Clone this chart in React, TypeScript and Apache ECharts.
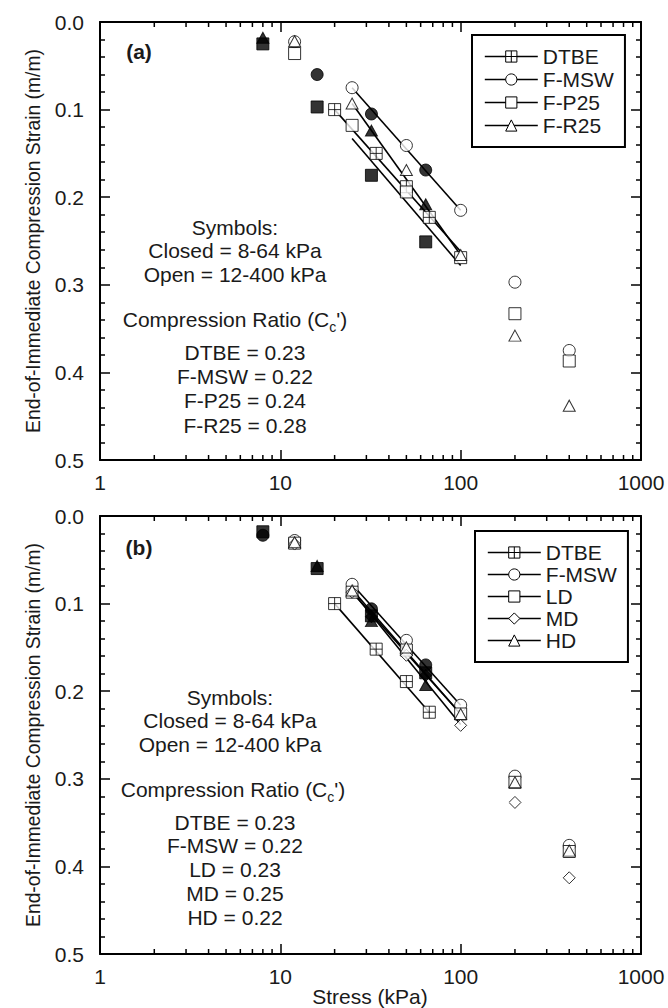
import React, { useEffect, useRef } from 'react';
import * as echarts from 'echarts';

// ---------- data ----------
const xTickLabels = ['1', '10', '100', '1000'];
const minorTickStresses = [2, 3, 4, 5, 6, 7, 8, 9, 20, 30, 40, 50, 60, 70, 80, 90, 200, 300, 400, 500, 600, 700, 800, 900];

// Panel (a) — open symbols (12-400 kPa)
const aDTBEOpen = [[20, 0.100], [34, 0.150], [50, 0.188], [67, 0.223]];
const aMSWOpen = [[12, 0.0225], [25, 0.075], [50, 0.141], [100, 0.215], [200, 0.297], [400, 0.375]];
const aP25Open = [[12, 0.036], [25, 0.118], [50, 0.194], [100, 0.269], [200, 0.333], [400, 0.387]];
const aR25Open = [[12, 0.022], [25, 0.093], [50, 0.169], [100, 0.266], [200, 0.358], [400, 0.438]];
// Panel (a) — closed symbols (8-64 kPa)
const aMSWClosed = [[16, 0.060], [32, 0.105], [64, 0.169]];
const aP25Closed = [[8, 0.025], [16, 0.097], [32, 0.175], [64, 0.251]];
const aR25Closed = [[8, 0.018], [32, 0.124], [64, 0.208]];
// Panel (a) — fitted lines
const aDTBEFit = [[20, 0.100], [100, 0.262]];
const aMSWFit = [[25, 0.075], [100, 0.215]];
const aP25Fit = [[25, 0.133], [100, 0.278]];
const aR25Fit = [[25, 0.093], [100, 0.266]];

// Panel (b) — open symbols
const bDTBEOpen = [[20, 0.100], [34, 0.152], [50, 0.189], [67, 0.224]];
const bMSWOpen = [[12, 0.028], [25, 0.078], [50, 0.142], [100, 0.216], [200, 0.297], [400, 0.376]];
const bLDOpen = [[12, 0.031], [25, 0.087], [50, 0.153], [100, 0.226], [200, 0.304], [400, 0.383]];
const bMDOpen = [[12, 0.032], [25, 0.087], [50, 0.159], [100, 0.239], [200, 0.327], [400, 0.413]];
const bHDOpen = [[12, 0.030], [25, 0.085], [50, 0.150], [100, 0.226], [200, 0.304], [400, 0.382]];
// Panel (b) — closed symbols
const bMSWClosed = [[8, 0.022], [32, 0.106], [64, 0.170]];
const bLDClosed = [[8, 0.018], [16, 0.060], [32, 0.114], [64, 0.179]];
const bMDClosed = [[32, 0.115], [64, 0.182]];
const bHDClosed = [[16, 0.057], [32, 0.120], [64, 0.193]];
// Panel (b) — fitted lines
const bDTBEFit = [[20, 0.100], [67, 0.224]];
const bMSWFit = [[25, 0.078], [100, 0.216]];
const bLDFit = [[25, 0.087], [100, 0.226]];
const bMDFit = [[25, 0.086], [100, 0.238]];
const bHDFit = [[25, 0.084], [100, 0.226]];

const legendA = ['DTBE', 'F-MSW', 'F-P25', 'F-R25'];
const legendB = ['DTBE', 'F-MSW', 'LD', 'MD', 'HD'];
const symbolNotes = ['Symbols:', 'Closed = 8-64 kPa', 'Open = 12-400 kPa'];
const ratioA = ['DTBE = 0.23', 'F-MSW = 0.22', 'F-P25 = 0.24', 'F-R25 = 0.28'];
const ratioB = ['DTBE = 0.23', 'F-MSW = 0.22', 'LD = 0.23', 'MD = 0.25', 'HD = 0.22'];
const yTitle = 'End-of-Immediate Compression Strain (m/m)';
const xTitle = 'Stress (kPa)';

// ---------- styling ----------
const FONT = 'Liberation Sans, Arial, sans-serif';
const INK = '#1a1a1a';
const GRID_SYMBOL = 'path://M0,0 L10,0 L10,10 L0,10 Z M5,0 L5,10 M0,5 L10,5';
const SYM: Record<string, string> = {
  DTBE: GRID_SYMBOL,
  'F-MSW': 'circle',
  'F-P25': 'rect',
  'F-R25': 'triangle',
  LD: 'rect',
  MD: 'diamond',
  HD: 'triangle',
};

function scatter(id: string, data: number[][], symbol: string, filled: boolean, ax: number) {
  return {
    type: 'scatter',
    name: id,
    xAxisIndex: ax * 2,
    yAxisIndex: ax * 2,
    data,
    symbol,
    symbolSize: symbol === 'triangle' ? [12, 11] : 12,
    itemStyle: filled
      ? { color: '#000', borderColor: '#000', borderWidth: 1 }
      : { color: '#fff', borderColor: '#000', borderWidth: 1 },
    z: filled ? 3 : 4,
    silent: true,
  };
}

function fitLine(name: string, data: number[][], ax: number) {
  return {
    type: 'line',
    name,
    xAxisIndex: ax * 2,
    yAxisIndex: ax * 2,
    data,
    symbol: SYM[name],
    symbolSize: 12,
    showSymbol: false,
    lineStyle: { color: '#000', width: 1.6 },
    itemStyle: { color: '#fff', borderColor: '#000', borderWidth: 1 },
    z: 2,
    silent: true,
  };
}

function minorTicks(ax: number) {
  return {
    type: 'custom',
    xAxisIndex: ax * 2,
    yAxisIndex: ax * 2,
    data: minorTickStresses.map((v) => [v, 0]),
    silent: true,
    clip: false,
    z: 5,
    renderItem: (_p: any, api: any) => {
      const v = api.value(0);
      const b = api.coord([v, 0.5]);
      const t = api.coord([v, 0]);
      const st = { stroke: '#000', lineWidth: 1.5 };
      return {
        type: 'group',
        children: [
          { type: 'line', shape: { x1: b[0], y1: b[1], x2: b[0], y2: b[1] - 5 }, style: st },
          { type: 'line', shape: { x1: t[0], y1: t[1], x2: t[0], y2: t[1] + 5 }, style: st },
        ],
      };
    },
  };
}

function xAxes(grid: number) {
  const base = {
    type: 'log',
    logBase: 10,
    min: 1,
    max: 1000,
    gridIndex: grid,
    axisLine: { show: true, onZero: false, lineStyle: { color: '#000', width: 2 } },
    axisTick: { show: true, inside: true, length: 10, lineStyle: { color: '#000', width: 1.5 } },
    splitLine: { show: false },
    minorTick: { show: false },
  };
  return [
    {
      ...base,
      position: 'bottom',
      axisLabel: {
        fontSize: 21,
        fontFamily: FONT,
        color: INK,
        margin: 12,
        formatter: (v: number) => xTickLabels[Math.round(Math.log10(v))],
      },
    },
    { ...base, position: 'top', axisLabel: { show: false } },
  ];
}

function yAxes(grid: number) {
  const base = {
    type: 'value',
    inverse: true,
    min: 0,
    max: 0.5,
    interval: 0.1,
    gridIndex: grid,
    axisLine: { show: true, onZero: false, lineStyle: { color: '#000', width: 2 } },
    axisTick: { show: true, inside: true, length: 10, lineStyle: { color: '#000', width: 1.5 } },
    minorTick: { show: true, splitNumber: 5, length: 5, lineStyle: { color: '#000', width: 1.5 } },
    splitLine: { show: false },
    minorSplitLine: { show: false },
  };
  return [
    {
      ...base,
      position: 'left',
      axisLabel: {
        fontSize: 21,
        fontFamily: FONT,
        color: INK,
        margin: 16,
        formatter: (v: number) => v.toFixed(1),
      },
    },
    { ...base, position: 'right', axisLabel: { show: false } },
  ];
}

function legend(names: string[], left: number, top: number, gap: number) {
  return {
    data: names,
    orient: 'vertical',
    left,
    top,
    itemWidth: 53,
    itemHeight: 14,
    itemGap: gap,
    padding: [11, 11, 11, 12],
    borderColor: '#000',
    borderWidth: 2,
    backgroundColor: '#fff',
    selectedMode: false,
    textStyle: { fontSize: 21, fontFamily: FONT, color: INK, padding: [0, 0, 0, 0] },
    itemStyle: { color: '#fff', borderColor: '#000', borderWidth: 1 },
    lineStyle: { color: '#000', width: 1.6 },
  };
}

function txt(text: string, x: number, y: number, extra: any = {}) {
  return {
    type: 'text',
    x,
    y,
    silent: true,
    z: 10,
    style: {
      text,
      fontSize: 21,
      fontFamily: FONT,
      fill: INK,
      align: 'center',
      verticalAlign: 'middle',
      ...extra,
    },
  };
}

function ratioTitle(x: number, y: number) {
  return {
    type: 'text',
    x,
    y,
    silent: true,
    z: 10,
    style: {
      text: "{n|Compression Ratio (C}{s|c}{n|')}",
      align: 'center',
      verticalAlign: 'middle',
      fill: INK,
      rich: {
        n: { fontSize: 21, fontFamily: FONT, fill: INK },
        s: { fontSize: 14, fontFamily: FONT, fill: INK, padding: [16, 0, 0, 0] },
      },
    },
  };
}

export default function App() {
  const ref = useRef<HTMLDivElement>(null);
  useEffect(() => {
    if (!ref.current) return;
    const chart = echarts.init(ref.current, undefined, { renderer: 'svg' });

    const graphics: any[] = [];
    // Panel labels
    graphics.push(txt('(a)', 139, 51, { fontWeight: 'bold' }));
    graphics.push(txt('(b)', 139, 547, { fontWeight: 'bold' }));
    // Y titles (condensed like the original)
    [241, 735].forEach((cy) => {
      graphics.push({
        type: 'text',
        x: 33,
        y: cy,
        rotation: Math.PI / 2,
        scaleX: 0.92,
        silent: true,
        style: {
          text: yTitle,
          fontSize: 21,
          fontFamily: FONT,
          fill: INK,
          align: 'center',
          verticalAlign: 'middle',
        },
      });
    });
    graphics.push(txt(xTitle, 370, 996));
    // Symbol notes
    symbolNotes.forEach((s, i) => graphics.push(txt(s, 235, 227 + i * 23.5)));
    symbolNotes.forEach((s, i) => graphics.push(txt(s, 230, 697 + i * 23.5)));
    graphics.push(ratioTitle(235, 319));
    graphics.push(ratioTitle(233, 789));
    ratioA.forEach((s, i) => graphics.push(txt(s, 245, 352 + i * 24.4)));
    ratioB.forEach((s, i) => graphics.push(txt(s, 235, 822 + i * 23.8)));

    const option: any = {
      animation: false,
      backgroundColor: '#fff',
      grid: [
        { left: 100, top: 22, width: 541, height: 438 },
        { left: 100, top: 516, width: 541, height: 438 },
      ],
      xAxis: [...xAxes(0), ...xAxes(1)],
      yAxis: [...yAxes(0), ...yAxes(1)],
      legend: [legend(legendA, 472, 35, 2), legend(legendB, 475, 531, 1)],
      graphic: graphics,
      series: [
        // fitted lines (first so legend uses their icons)
        fitLine('DTBE', aDTBEFit, 0),
        fitLine('F-MSW', aMSWFit, 0),
        fitLine('F-P25', aP25Fit, 0),
        fitLine('F-R25', aR25Fit, 0),
        fitLine('DTBE', bDTBEFit, 1),
        fitLine('F-MSW', bMSWFit, 1),
        fitLine('LD', bLDFit, 1),
        fitLine('MD', bMDFit, 1),
        fitLine('HD', bHDFit, 1),
        // panel (a) points
        scatter('a-msw-c', aMSWClosed, 'circle', true, 0),
        scatter('a-p25-c', aP25Closed, 'rect', true, 0),
        scatter('a-r25-c', aR25Closed, 'triangle', true, 0),
        scatter('a-dtbe-o', aDTBEOpen, GRID_SYMBOL, false, 0),
        scatter('a-msw-o', aMSWOpen, 'circle', false, 0),
        scatter('a-p25-o', aP25Open, 'rect', false, 0),
        scatter('a-r25-o', aR25Open, 'triangle', false, 0),
        // panel (b) points
        scatter('b-msw-c', bMSWClosed, 'circle', true, 1),
        scatter('b-ld-c', bLDClosed, 'rect', true, 1),
        scatter('b-md-c', bMDClosed, 'diamond', true, 1),
        scatter('b-hd-c', bHDClosed, 'triangle', true, 1),
        scatter('b-dtbe-o', bDTBEOpen, GRID_SYMBOL, false, 1),
        scatter('b-msw-o', bMSWOpen, 'circle', false, 1),
        scatter('b-ld-o', bLDOpen, 'rect', false, 1),
        scatter('b-md-o', bMDOpen, 'diamond', false, 1),
        scatter('b-hd-o', bHDOpen, 'triangle', false, 1),
        minorTicks(0),
        minorTicks(1),
      ],
    };
    chart.setOption(option);
    return () => chart.dispose();
  }, []);

  return (
    <div
      ref={ref}
      style={{ position: 'absolute', left: 0, top: 0, width: 668, height: 1008, background: '#fff' }}
    />
  );
}
